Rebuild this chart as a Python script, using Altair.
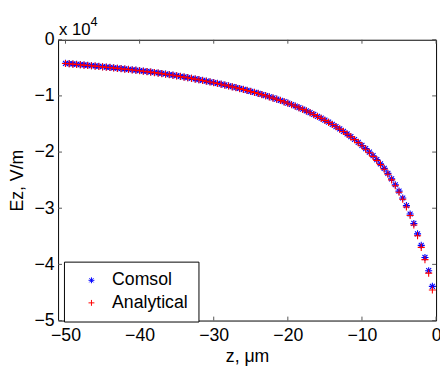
import altair as alt
import pandas as pd

# z positions (micrometres)
z = [-50.0, -49.5, -49.0, -48.5, -48.0, -47.5, -47.0, -46.5, -46.0, -45.5,
     -45.0, -44.5, -44.0, -43.5, -43.0, -42.5, -42.0, -41.5, -41.0, -40.5,
     -40.0, -39.5, -39.0, -38.5, -38.0, -37.5, -37.0, -36.5, -36.0, -35.5,
     -35.0, -34.5, -34.0, -33.5, -33.0, -32.5, -32.0, -31.5, -31.0, -30.5,
     -30.0, -29.5, -29.0, -28.5, -28.0, -27.5, -27.0, -26.5, -26.0, -25.5,
     -25.0, -24.5, -24.0, -23.5, -23.0, -22.5, -22.0, -21.5, -21.0, -20.5,
     -20.0, -19.5, -19.0, -18.5, -18.0, -17.5, -17.0, -16.5, -16.0, -15.5,
     -15.0, -14.5, -14.0, -13.5, -13.0, -12.5, -12.0, -11.5, -11.0, -10.5,
     -10.0, -9.5, -9.0, -8.5, -8.0, -7.5, -7.0, -6.5, -6.0, -5.5,
     -5.0, -4.5, -4.0, -3.5, -3.0, -2.5, -2.0, -1.5, -1.0, -0.5]

# Ez in units of 1e4 V/m
comsol = [-0.4200, -0.4255, -0.4311, -0.4368, -0.4426, -0.4485, -0.4545, -0.4606, -0.4668, -0.4731,
          -0.4795, -0.4860, -0.4926, -0.4993, -0.5061, -0.5130, -0.5200, -0.5271, -0.5343, -0.5416,
          -0.5490, -0.5568, -0.5649, -0.5733, -0.5820, -0.5910, -0.6003, -0.6099, -0.6198, -0.6300,
          -0.6405, -0.6513, -0.6624, -0.6738, -0.6855, -0.6975, -0.7098, -0.7224, -0.7353, -0.7485,
          -0.7620, -0.7759, -0.7902, -0.8049, -0.8200, -0.8355, -0.8514, -0.8677, -0.8844, -0.9015,
          -0.9190, -0.9370, -0.9556, -0.9748, -0.9946, -1.0150, -1.0360, -1.0577, -1.0801, -1.1032,
          -1.127, -1.153, -1.180, -1.208, -1.237, -1.267, -1.298, -1.330, -1.363, -1.397,
          -1.432, -1.468, -1.506, -1.546, -1.588, -1.632, -1.678, -1.726, -1.776, -1.828,
          -1.882, -1.939, -2.000, -2.065, -2.135, -2.210, -2.290, -2.380, -2.477, -2.582,
          -2.695, -2.818, -2.953, -3.103, -3.271, -3.457, -3.662, -3.877, -4.112, -4.392]

analytical = [-0.4230, -0.4285, -0.4341, -0.4398, -0.4456, -0.4515, -0.4575, -0.4636, -0.4698, -0.4761,
              -0.4825, -0.4890, -0.4956, -0.5023, -0.5091, -0.5160, -0.5230, -0.5301, -0.5373, -0.5446,
              -0.5520, -0.5598, -0.5679, -0.5763, -0.5850, -0.5940, -0.6033, -0.6129, -0.6228, -0.6330,
              -0.6435, -0.6543, -0.6654, -0.6768, -0.6885, -0.7005, -0.7128, -0.7254, -0.7383, -0.7515,
              -0.7650, -0.7789, -0.7932, -0.8079, -0.8230, -0.8385, -0.8544, -0.8707, -0.8874, -0.9045,
              -0.9220, -0.9400, -0.9586, -0.9778, -0.9976, -1.0180, -1.0390, -1.0607, -1.0831, -1.1062,
              -1.130, -1.156, -1.183, -1.211, -1.240, -1.270, -1.301, -1.333, -1.366, -1.400,
              -1.435, -1.471, -1.509, -1.549, -1.591, -1.635, -1.681, -1.729, -1.779, -1.832,
              -1.887, -1.949, -2.011, -2.077, -2.148, -2.224, -2.305, -2.396, -2.495, -2.601,
              -2.716, -2.841, -2.978, -3.130, -3.300, -3.489, -3.697, -3.915, -4.155, -4.455]

series_names = ["Comsol", "Analytical"]
series_colors = ["#0000ff", "#ff0000"]
x_ticks = [-50, -40, -30, -20, -10, 0]
y_ticks = [0, -1, -2, -3, -4, -5]
x_domain = [-51, 0]
y_domain = [-5, 0]

asterisk = "M-1,0H1M0,-1V1M-0.7,-0.7L0.7,0.7M-0.7,0.7L0.7,-0.7"
plus = "M-1,0H1M0,-1V1"

W, H = 385, 286
FONT = "Liberation Sans"
FS = 18

df = pd.DataFrame({
    "z": z + z,
    "Ez": comsol + analytical,
    "series": [series_names[0]] * len(z) + [series_names[1]] * len(z),
    "order": [0] * len(z) + [1] * len(z),
})

xs = alt.Scale(domain=x_domain, nice=False, zero=False)
ys = alt.Scale(domain=y_domain, nice=False, zero=False)

points = alt.Chart(df).mark_point(filled=False, strokeWidth=1.1, size=52, opacity=1).encode(
    x=alt.X("z:Q", scale=xs,
            axis=alt.Axis(values=x_ticks, title="z, \u03bcm", ticks=False, domain=False,
                          grid=False, labelPadding=6, titlePadding=4, labelFlush=False,
                          format="d")),
    y=alt.Y("Ez:Q", scale=ys,
            axis=alt.Axis(values=y_ticks, title="Ez, V/m", ticks=False, domain=False,
                          grid=False, labelPadding=4, titlePadding=8, format="d")),
    color=alt.Color("series:N", scale=alt.Scale(domain=series_names, range=series_colors),
                    legend=alt.Legend(title=None)),
    shape=alt.Shape("series:N", scale=alt.Scale(domain=series_names, range=[asterisk, plus]),
                    legend=alt.Legend(title=None)),
    order=alt.Order("order:Q"),
)

xt = pd.DataFrame({"v": x_ticks})
yt = pd.DataFrame({"v": y_ticks})
tick_color = "#555555"
xt_bottom = alt.Chart(xt).mark_rule(color=tick_color, strokeWidth=1).encode(
    x=alt.X("v:Q", scale=xs), y=alt.value(H), y2=alt.value(H - 4))
xt_top = alt.Chart(xt).mark_rule(color=tick_color, strokeWidth=1).encode(
    x=alt.X("v:Q", scale=xs), y=alt.value(0), y2=alt.value(4))
yt_left = alt.Chart(yt).mark_rule(color=tick_color, strokeWidth=1).encode(
    y=alt.Y("v:Q", scale=ys), x=alt.value(0), x2=alt.value(4))
yt_right = alt.Chart(yt).mark_rule(color=tick_color, strokeWidth=1).encode(
    y=alt.Y("v:Q", scale=ys), x=alt.value(W), x2=alt.value(W - 4))

exp_base = alt.Chart(pd.DataFrame({"t": ["x 10"]})).mark_text(
    font=FONT, fontSize=17, align="left", baseline="alphabetic", color="black").encode(
    text="t:N", x=alt.value(1), y=alt.value(-5))
exp_sup = alt.Chart(pd.DataFrame({"t": ["4"]})).mark_text(
    font=FONT, fontSize=13, align="left", baseline="alphabetic", color="black").encode(
    text="t:N", x=alt.value(33), y=alt.value(-14))

chart = alt.layer(xt_bottom, xt_top, yt_left, yt_right, points, exp_base, exp_sup).properties(
    width=W, height=H,
    autosize=alt.AutoSizeParams(type="none"),
    padding={"left": 51, "top": 29, "right": 4, "bottom": 45},
    background="white",
).resolve_scale(x="shared", y="shared").configure_view(
    stroke="black", strokeWidth=1
).configure_axis(
    labelFont=FONT, labelFontSize=FS, labelColor="black",
    titleFont=FONT, titleFontSize=FS, titleColor="black", titleFontWeight="normal",
).configure_legend(
    orient="none", legendX=6, legendY=226,
    strokeColor="black", fillColor="white", cornerRadius=0, padding=10,
    labelFont=FONT, labelFontSize=FS, labelColor="black",
    symbolSize=36, symbolStrokeWidth=1, rowPadding=5, labelOffset=12, symbolOffset=9,
)

chart.save("out.html", embed_options={"renderer": "svg", "actions": False})
